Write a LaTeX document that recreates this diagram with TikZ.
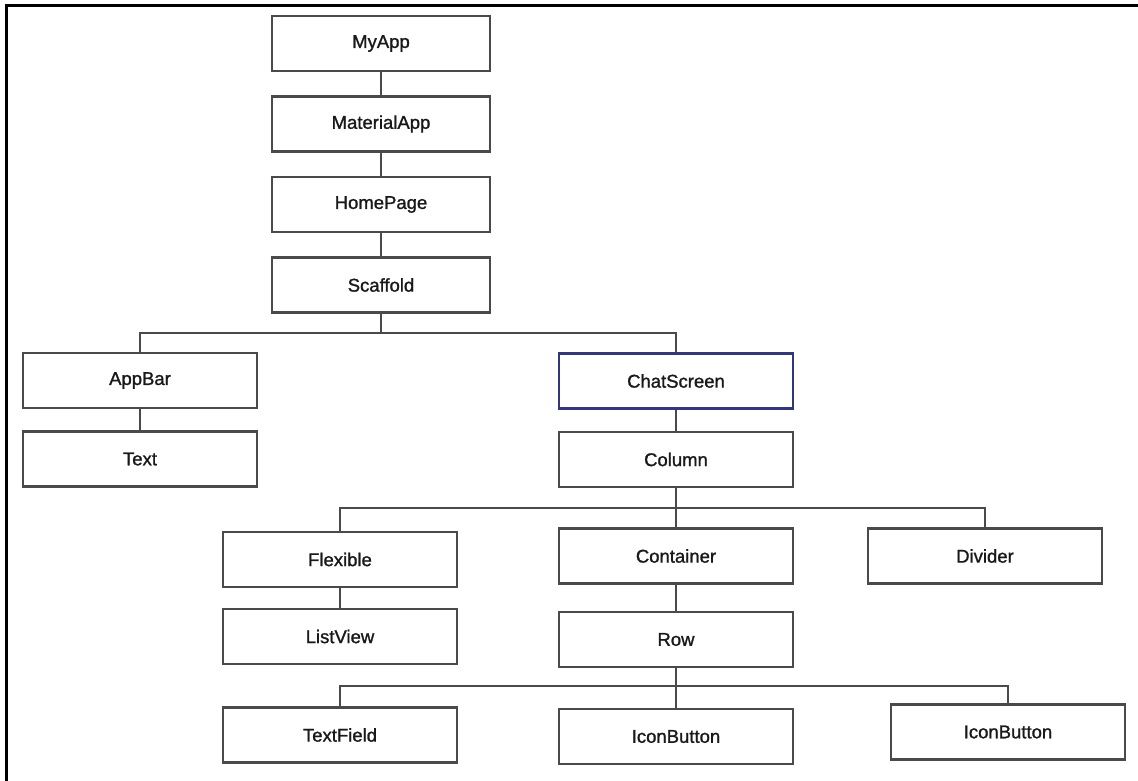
\documentclass[tikz,border=0pt]{standalone}
\usepackage{fontspec}
\setmainfont{Liberation Sans}
\newfontfamily\boxfont[FakeBold=1.2]{Liberation Sans}
\definecolor{boxgray}{HTML}{4A4A4A}
\definecolor{navy}{HTML}{33377A}
\begin{document}
\begin{tikzpicture}[x=1pt,y=-1pt,
  wbox/.style={draw=boxgray, line width=2.8pt, fill=white, minimum height=55pt,
    minimum width=234pt, inner sep=0pt, text=black!90,
    font=\boxfont\fontsize{18.5}{20}\selectfont},
  nbox/.style={wbox, minimum width=218pt},
  link/.style={draw=boxgray, line width=2.8pt}]
\useasboundingbox (0,0) rectangle (1138,780);
\fill[white] (0,0) rectangle (1138,780);
\draw[black, line width=3pt] (6,790) -- (6,5) -- (1150,5);
% top chain
\node[nbox] (myapp) at (381,43.5) {MyApp};
\node[nbox] (material) at (381,124) {MaterialApp};
\node[nbox] (home) at (381,204.5) {HomePage};
\node[nbox] (scaffold) at (381,285) {Scaffold};
% second level
\node[wbox] (appbar) at (140,380.5) {AppBar};
\node[wbox] (text) at (140,459) {Text};
\node[wbox, draw=navy] (chat) at (676,381) {ChatScreen};
\node[wbox] (column) at (676,459.5) {Column};
% third level
\node[wbox] (flexible) at (340,559.5) {Flexible};
\node[wbox] (listview) at (340,636.5) {ListView};
\node[wbox] (container) at (676,556) {Container};
\node[wbox] (row) at (676,639.5) {Row};
\node[wbox] (divider) at (985,556) {Divider};
% fourth level
\node[wbox] (textfield) at (340,735) {TextField};
\node[wbox] (iconA) at (676,736.5) {IconButton};
\node[wbox] (iconB) at (1008,732) {IconButton};
% branch points
\coordinate (b1) at (381,333);
\coordinate (b2) at (676,508);
\coordinate (b3) at (676,686);
% connectors
\draw[link] (myapp) -- (material);
\draw[link] (material) -- (home);
\draw[link] (home) -- (scaffold);
\draw[link] (scaffold) -- (b1);
\draw[link] (appbar.north) |- (b1) -| (chat.north);
\draw[link] (appbar) -- (text);
\draw[link] (chat) -- (column);
\draw[link] (column) -- (container);
\draw[link] (flexible.north) |- (b2) -| (divider.north);
\draw[link] (flexible) -- (listview);
\draw[link] (container) -- (row);
\draw[link] (row) -- (iconA);
\draw[link] (textfield.north) |- (b3) -| (iconB.north);
\end{tikzpicture}
\end{document}
